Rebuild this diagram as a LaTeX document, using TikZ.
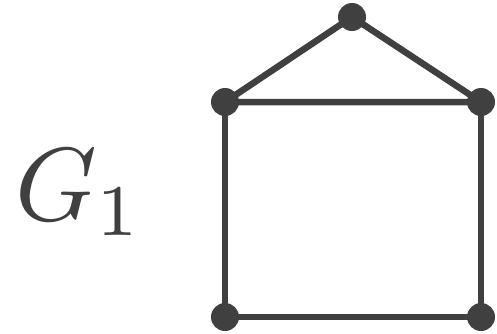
\documentclass[tikz,border=0pt]{standalone}
\usepackage{xcolor}
\definecolor{ink}{HTML}{404040}
\begin{document}
\begin{tikzpicture}[x=1pt,y=-1pt,
  vtx/.style={circle,fill=ink,inner sep=0pt,minimum size=28pt},
  edge/.style={draw=ink,line width=6.5pt}]
\useasboundingbox (0,0) rectangle (497,333);
\coordinate (t) at (352,17);
\coordinate (l) at (225,102);
\coordinate (r) at (481,102);
\coordinate (bl) at (225,317);
\coordinate (br) at (481,317);
\path[edge] (t) -- (l) -- (r) -- cycle;
\path[edge] (l) -- (bl) -- (br) -- (r);
\node[vtx] (vt) at (t) {};
\node[vtx] (vl) at (l) {};
\node[vtx] (vr) at (r) {};
\node[vtx] (vbl) at (bl) {};
\node[vtx] (vbr) at (br) {};
\node[text=ink,anchor=base west,inner sep=0pt,scale=10.4] (g) at (13,220) {$G_1$};
\end{tikzpicture}
\end{document}
